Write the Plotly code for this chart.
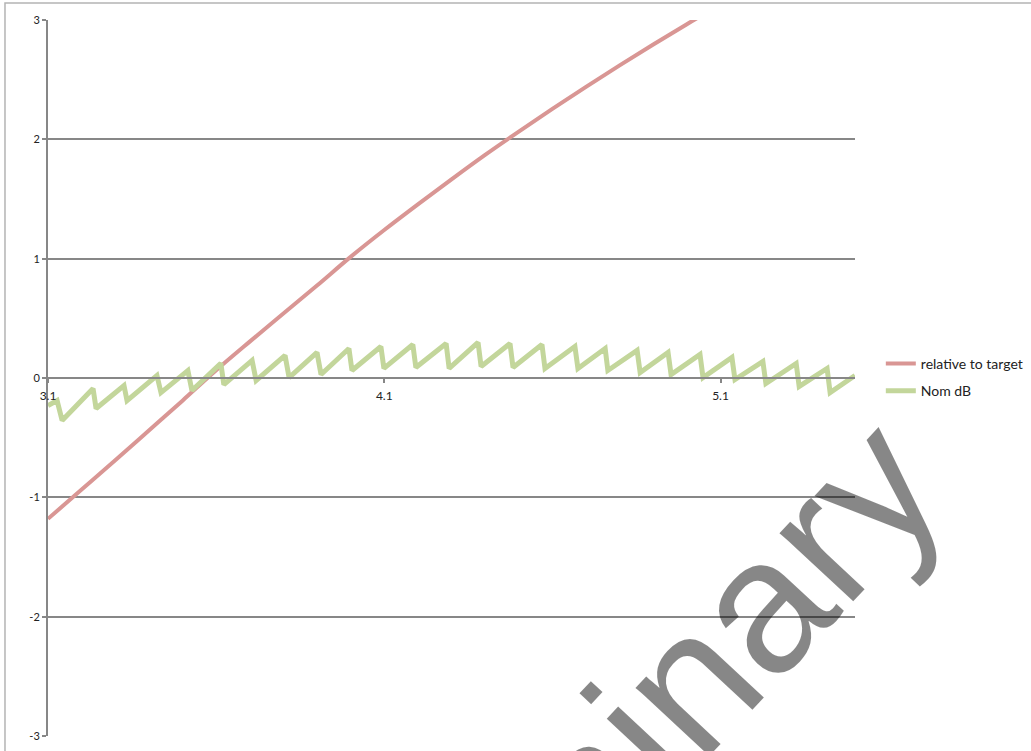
import plotly.graph_objects as go

# ---------------- data ----------------
x_tick_vals = [3.1, 4.1, 5.1]
x_tick_text = ["3.1", "4.1", "5.1"]
y_tick_vals = [-3, -2, -1, 0, 1, 2, 3]
y_tick_text = ["-3", "-2", "-1", "0", "1", "2", "3"]

rel_x = [3.1, 3.2, 3.3, 3.4, 3.5, 3.6, 3.7, 3.8, 3.9, 4.0, 4.1, 4.2, 4.3,
         4.4, 4.5, 4.6, 4.7, 4.8, 4.9, 5.0, 5.1]
rel_y = [-1.18, -0.935, -0.69, -0.44, -0.19, 0.065, 0.305, 0.54, 0.775,
         1.015, 1.24, 1.455, 1.665, 1.87, 2.065, 2.255, 2.44, 2.62, 2.795,
         2.965, 3.13]

nom_x = [3.100, 3.127, 3.142, 3.234, 3.243, 3.326, 3.335, 3.424, 3.436,
         3.516, 3.528, 3.614, 3.623, 3.707, 3.719, 3.805, 3.817, 3.900,
         3.912, 3.995, 4.004, 4.090, 4.099, 4.185, 4.194, 4.284, 4.293,
         4.379, 4.388, 4.474, 4.483, 4.569, 4.578, 4.667, 4.676, 4.757,
         4.765, 4.852, 4.861, 4.944, 4.953, 5.039, 5.048, 5.134, 5.143,
         5.226, 5.235, 5.325, 5.334, 5.417, 5.426, 5.500]
nom_y = [-0.231, -0.189, -0.356, -0.088, -0.256, -0.063, -0.189, 0.021,
         -0.122, 0.063, -0.105, 0.122, -0.055, 0.147, -0.021, 0.189, 0.004,
         0.214, 0.029, 0.247, 0.063, 0.264, 0.080, 0.281, 0.088, 0.289,
         0.080, 0.298, 0.096, 0.289, 0.088, 0.281, 0.080, 0.264, 0.080,
         0.247, 0.063, 0.231, 0.046, 0.214, 0.029, 0.197, 0.004, 0.172,
         -0.013, 0.138, -0.046, 0.122, -0.071, 0.080, -0.122, 0.021]

series_names = ["relative to target", "Nom dB"]
watermark_text = "Preliminary"

# ---------------- figure ----------------
FONT = "Lato, 'Open Sans', sans-serif"
GRID = "#878787"

fig = go.Figure()
fig.add_trace(go.Scatter(
    x=rel_x, y=rel_y, mode="lines", name=series_names[0],
    line=dict(color="#d99694", width=4, shape="spline"),
    legend="legend"))
fig.add_trace(go.Scatter(
    x=nom_x, y=nom_y, mode="lines", name=series_names[1],
    line=dict(color="#c3d69b", width=5),
    legend="legend2"))

fig.update_layout(
    width=1031, height=751,
    margin=dict(l=48, r=176, t=20, b=15, autoexpand=False),
    paper_bgcolor="white", plot_bgcolor="white",
    font=dict(family=FONT, size=11, color="#222222"),
    showlegend=True,
    legend=dict(x=1.032, y=0.5196, xanchor="left", yanchor="middle",
                bgcolor="rgba(0,0,0,0)", borderwidth=0,
                font=dict(family=FONT, size=14, color="#222222")),
    legend2=dict(x=1.032, y=0.4818, xanchor="left", yanchor="middle",
                 bgcolor="rgba(0,0,0,0)", borderwidth=0,
                 font=dict(family=FONT, size=14, color="#222222")),
    xaxis=dict(range=[3.1, 5.5], tickvals=x_tick_vals, ticktext=x_tick_text,
               showgrid=False, zeroline=False, showline=True,
               linecolor=GRID, linewidth=2, ticks="outside", ticklen=4,
               tickcolor=GRID, tickwidth=1.5, anchor="free", position=0.5,
               ticklabelstandoff=3,
               tickfont=dict(family=FONT, size=12, color="#222222")),
    yaxis=dict(range=[-3, 3], tickvals=y_tick_vals, ticktext=y_tick_text,
               showgrid=True, gridcolor=GRID, gridwidth=2, zeroline=False,
               showline=True, linecolor=GRID, linewidth=2, ticks="outside",
               ticklen=4, tickcolor=GRID, tickwidth=2,
               tickfont=dict(family=FONT, size=11, color="#222222")),
)

# chart-area border (top/left visible)
fig.add_shape(type="rect", xref="paper", yref="paper",
              x0=-0.0533, x1=1.4, y0=-0.2, y1=1.0237,
              line=dict(color="#b4b4b4", width=1.5), layer="below")

# watermark
fig.add_annotation(text=watermark_text, xref="paper", yref="paper",
                   x=0.659, y=-0.0866, showarrow=False, textangle=-47,
                   xanchor="center", yanchor="middle",
                   font=dict(family="Liberation Sans, Arial", size=190,
                             color="rgba(0,0,0,0.47)"))

fig.write_html("out.html",
               config={"displayModeBar": False},
               post_script="document.body.style.margin='0';")
